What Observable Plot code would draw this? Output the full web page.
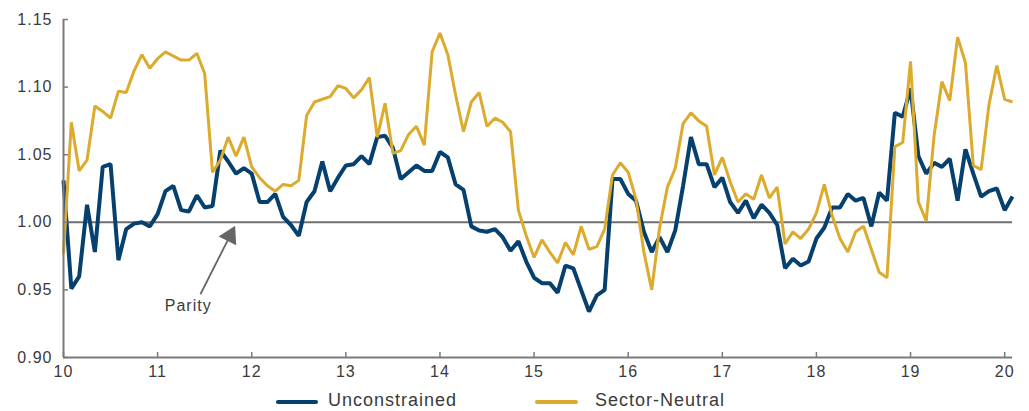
<!DOCTYPE html>
<html>
<head>
<meta charset="utf-8">
<script src="https://cdn.jsdelivr.net/npm/d3@7"></script>
<script src="https://cdn.jsdelivr.net/npm/@observablehq/plot@0.6"></script>
<style>
  body { margin: 0; background: #fff; font-family: "Liberation Sans", Arial, sans-serif; }
  #chart svg { display: block; overflow: visible; }
  #legend { position: relative; width: 1029px; height: 23px; color: #3a3a3a; font-size: 18px; letter-spacing: 1px; }
  #legend .sw { position: absolute; top: 12px; height: 4px; border-radius: 2px; }
  #legend .lab { position: absolute; top: 1px; line-height: 22px; white-space: nowrap; }
</style>
</head>
<body>
<div id="chart"></div>
<div id="legend"></div>
<script>
// Monthly observations starting at 10.0
const startX = 10;
const unconstrained = [
  1.031, 0.951, 0.960, 1.013, 0.978, 1.041, 1.043, 0.972, 0.995, 0.999, 1.000, 0.997,
  1.006, 1.023, 1.027, 1.009, 1.008, 1.020, 1.011, 1.012, 1.053, 1.045, 1.036, 1.040,
  1.036, 1.015, 1.015, 1.021, 1.004, 0.998, 0.990, 1.015, 1.023, 1.045, 1.023, 1.033,
  1.042, 1.043, 1.049, 1.043, 1.063, 1.064, 1.055, 1.032, 1.037, 1.042, 1.038, 1.038,
  1.052, 1.048, 1.028, 1.024, 0.997, 0.994, 0.993, 0.995, 0.989, 0.979, 0.986, 0.971,
  0.959, 0.955, 0.955, 0.948, 0.968, 0.966, 0.950, 0.934, 0.946, 0.950, 1.032, 1.032,
  1.021, 1.016, 0.993, 0.978, 0.989, 0.978, 0.994, 1.027, 1.063, 1.043, 1.043, 1.026,
  1.033, 1.015, 1.007, 1.016, 1.003, 1.013, 1.007, 0.998, 0.966, 0.973, 0.968, 0.971,
  0.988, 0.996, 1.011, 1.011, 1.021, 1.016, 1.018, 0.997, 1.022, 1.016, 1.081, 1.078,
  1.099, 1.049, 1.036, 1.044, 1.041, 1.047, 1.016, 1.054, 1.036, 1.019, 1.023, 1.025,
  1.009, 1.019
];
const sectorNeutral = [
  0.977, 1.074, 1.038, 1.046, 1.086, 1.082, 1.077, 1.097, 1.096, 1.112, 1.124, 1.114,
  1.121, 1.126, 1.123, 1.120, 1.120, 1.125, 1.110, 1.037, 1.046, 1.063, 1.049, 1.063,
  1.041, 1.033, 1.027, 1.023, 1.028, 1.027, 1.031, 1.079, 1.089, 1.091, 1.093, 1.101,
  1.099, 1.092, 1.098, 1.107, 1.063, 1.088, 1.051, 1.053, 1.065, 1.071, 1.057, 1.126,
  1.140, 1.124, 1.094, 1.067, 1.089, 1.096, 1.071, 1.077, 1.074, 1.067, 1.009, 0.990,
  0.974, 0.987, 0.978, 0.970, 0.985, 0.976, 0.997, 0.980, 0.982, 0.995, 1.035, 1.044,
  1.037, 1.017, 0.978, 0.950, 0.996, 1.026, 1.040, 1.073, 1.081, 1.075, 1.071, 1.035,
  1.048, 1.030, 1.015, 1.021, 1.017, 1.035, 1.018, 1.026, 0.984, 0.993, 0.988, 0.995,
  1.007, 1.028, 1.005, 0.988, 0.978, 0.993, 0.997, 0.980, 0.963, 0.959, 1.056, 1.059,
  1.119, 1.015, 1.001, 1.064, 1.104, 1.090, 1.137, 1.118, 1.042, 1.039, 1.087, 1.116,
  1.091, 1.089
];
const seriesNames = ["Unconstrained", "Sector-Neutral"];
const seriesColors = ["#05406e", "#dcaa2c"];
const xTicks = [10, 11, 12, 13, 14, 15, 16, 17, 18, 19, 20];
const yTicks = [0.90, 0.95, 1.00, 1.05, 1.10, 1.15];
const parityValue = 1.0;
const parityLabel = "Parity";
// annotation anchor points (data units)
const noteText = { x: 11.325, y: 0.9379 };
const noteTail = { x: 11.455, y: 0.9468 };
const noteHead = { x: 11.769, y: 0.9900, rotate: 27 };

const xMax = startX + (unconstrained.length - 1) / 12;
const table = unconstrained.map((u, i) => ({ t: startX + i / 12, u, s: sectorNeutral[i] }));

const axisColor = "#7a7a7a";
const textColor = "#3a3a3a";

const chart = Plot.plot({
  width: 1029,
  height: 388,
  marginLeft: 63,
  marginRight: 1029 - 1012,
  marginTop: 19,
  marginBottom: 31,
  x: { domain: [startX, xMax], label: null },
  y: { domain: [0.90, 1.15], label: null },
  style: { fontFamily: "'Liberation Sans', Arial, sans-serif", fontSize: "16px", color: textColor, letterSpacing: "1px", background: "#fff" },
  marks: [
    Plot.ruleY([parityValue], { x1: startX, x2: xMax, stroke: "#6f6f6f", strokeWidth: 2 }),
    Plot.line(table, { x: "t", y: "u", stroke: seriesColors[0], strokeWidth: 4, strokeLinejoin: "miter", strokeLinecap: "butt" }),
    Plot.line(table, { x: "t", y: "s", stroke: seriesColors[1], strokeWidth: 3, strokeLinejoin: "miter", strokeLinecap: "butt" }),
    // axes lines
    Plot.ruleX([startX], { y1: 0.90, y2: 1.15, stroke: axisColor, strokeWidth: 2 }),
    Plot.ruleY([0.90], { x1: startX, x2: xMax, stroke: axisColor, strokeWidth: 2 }),
    // inward ticks
    Plot.ruleY(yTicks, { x1: startX, x2: startX, insetRight: -5, stroke: axisColor, strokeWidth: 1.5 }),
    Plot.ruleX(xTicks, { y1: 0.90, y2: 0.90, insetTop: -5, stroke: axisColor, strokeWidth: 1.5 }),
    Plot.axisY({ ticks: yTicks, tickSize: 0, tickPadding: 11, tickFormat: d => d.toFixed(2), fill: textColor, label: null }),
    Plot.axisX({ ticks: xTicks, tickSize: 0, tickPadding: 8, tickFormat: d => String(d), fill: textColor, label: null }),
    // annotation
    Plot.link([0], { x1: noteTail.x, y1: noteTail.y, x2: noteHead.x, y2: noteHead.y, stroke: "#666", strokeWidth: 1.8 }),
    Plot.dot([0], { x: noteHead.x, y: noteHead.y, symbol: "triangle", r: 7.3, rotate: noteHead.rotate, fill: "#666", stroke: "none" }),
    Plot.text([parityLabel], { x: noteText.x, y: noteText.y, text: d => d, fontSize: 16, fill: textColor, textAnchor: "middle" })
  ]
});
document.getElementById("chart").appendChild(chart);

// legend
const legend = document.getElementById("legend");
const legendPos = [{ sw: 276, w: 42, lab: 328 }, { sw: 535, w: 43, lab: 595 }];
seriesNames.forEach((name, i) => {
  const sw = document.createElement("div");
  sw.className = "sw";
  sw.style.left = legendPos[i].sw + "px";
  sw.style.width = legendPos[i].w + "px";
  sw.style.background = seriesColors[i];
  legend.appendChild(sw);
  const lab = document.createElement("div");
  lab.className = "lab";
  lab.style.left = legendPos[i].lab + "px";
  lab.textContent = name;
  legend.appendChild(lab);
});
</script>
</body>
</html>
